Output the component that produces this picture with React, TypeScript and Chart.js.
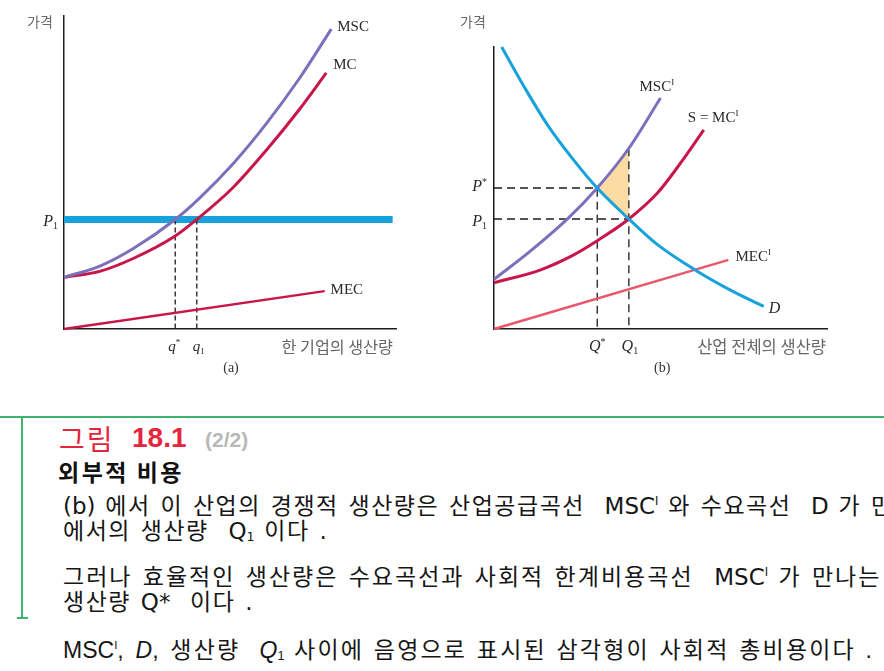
import React, { useEffect, useRef } from "react";
import { Chart, registerables } from "chart.js";

Chart.register(...registerables);

// ---------- (a) 한 기업 ----------
const P1_A = 3.5;
const Q_STAR_A = 3.35;
const Q1_A = 4.0;
const PRICE_END_A = 9.9;
const MSC_A = [[0, 1.65], [1.1, 2.02], [2.1, 2.58], [3.35, 3.5], [4.1, 4.2], [5.1, 5.29], [6.1, 6.57], [7.1, 8.02], [8.05, 9.58]];
const MC_A = [[0, 1.65], [1.1, 1.85], [2.1, 2.26], [3.35, 2.97], [4.0, 3.5], [5.1, 4.53], [6.1, 5.72], [7.1, 7.03], [7.9, 8.18]];
const MEC_A = [[0, 0], [7.85, 1.21]];

// ---------- (b) 산업 전체 ----------
const P_STAR_B = 5.0;
const Q_STAR_B = 3.1;
const P1_B = 3.9;
const Q1_B = 4.05;
const MSC_B_AT_Q1 = 6.41;
const DEMAND_B = [[0.23, 10], [0.9, 8.6], [1.6, 7.25], [2.4, 5.98], [3.1, 5.0], [4.05, 3.9], [4.9, 3.0], [6.1, 2.05], [7.1, 1.38], [8.1, 0.8]];
const MSC_B = [[0, 1.76], [1.1, 2.77], [2.23, 3.93], [3.1, 5.0], [4.05, 6.41], [5.0, 8.19]];
const MC_B = [[0, 1.64], [1.38, 2.09], [2.38, 2.62], [3.1, 3.13], [4.05, 3.9], [4.9, 4.81], [5.6, 5.88], [6.3, 7.06]];
const MEC_B = [[0, 0], [7.04, 2.45]];

const AXIS_MAX = 10;

const BLUE = "#17a2dc";
const PURPLE = "#7c70bc";
const CRIMSON = "#c8164b";
const PINK = "#ea566c";
const SHADE = "#fddca3";
const INK = "#1d1d1d";

const SERIF = '"Liberation Serif", "DejaVu Serif", serif';
const KR = '"Noto Sans CJK KR", sans-serif';

const pts = (a: number[][]) => a.map(([x, y]) => ({ x, y }));
const last = (a: number[][]) => a[a.length - 1];

type Part = { t: string; italic?: boolean; sub?: boolean; sup?: boolean };
type Label = {
  x: number; y: number; dx?: number; dy?: number;
  parts: Part[]; size: number; family: string; color: string;
  align?: "left" | "center" | "right";
};

function drawLabel(ctx: CanvasRenderingContext2D, chart: any, l: Label) {
  const px = chart.scales.x.getPixelForValue(l.x) + (l.dx || 0);
  const py = chart.scales.y.getPixelForValue(l.y) + (l.dy || 0);
  const fontFor = (p: Part) =>
    `${p.italic ? "italic " : ""}${p.sub || p.sup ? Math.round(l.size * 0.62) : l.size}px ${l.family}`;
  let total = 0;
  const widths = l.parts.map((p) => {
    ctx.font = fontFor(p);
    const w = ctx.measureText(p.t).width;
    total += w;
    return w;
  });
  let x = l.align === "center" ? px - total / 2 : l.align === "right" ? px - total : px;
  ctx.save();
  ctx.fillStyle = l.color;
  ctx.textBaseline = "middle";
  ctx.textAlign = "left";
  l.parts.forEach((p, i) => {
    ctx.font = fontFor(p);
    const off = p.sub ? l.size * 0.3 : p.sup ? -l.size * 0.3 : 0;
    ctx.fillText(p.t, x, py + off);
    x += widths[i];
  });
  ctx.restore();
}

const labelPlugin = (items: Label[]) => ({
  id: "curveLabels",
  afterDatasetsDraw(chart: any) {
    const ctx = chart.ctx as CanvasRenderingContext2D;
    items.forEach((l) => drawLabel(ctx, chart, l));
  },
});

const axis = () => ({
  type: "linear" as const,
  min: 0,
  max: AXIS_MAX,
  grid: { display: false, drawTicks: false },
  ticks: { display: false },
  border: { display: true, color: INK, width: 1.5 },
  afterFit: (s: any) => {
    if (s.isHorizontal()) s.height = 0;
    else s.width = 0;
  },
});

const curve = (data: number[][], color: string, width: number, extra: any = {}) => ({
  data: pts(data),
  borderColor: color,
  borderWidth: width,
  pointRadius: 0,
  fill: false,
  cubicInterpolationMode: "monotone",
  clip: false,
  ...extra,
});

const dashed = (data: number[][], dash: number[]) => ({
  data: pts(data),
  borderColor: INK,
  borderWidth: 1.3,
  borderDash: dash,
  pointRadius: 0,
  fill: false,
  tension: 0,
  clip: false,
});

const baseOptions = (padding: any) => ({
  responsive: false,
  animation: false as const,
  events: [] as any[],
  layout: { padding },
  plugins: { legend: { display: false }, tooltip: { enabled: false } },
  scales: { x: axis(), y: axis() },
});

const TXT = "#2a2a2a";

function lab(x: number, y: number, dx: number, dy: number, parts: Part[], size: number, family = SERIF, color = TXT, align: Label["align"] = "left"): Label {
  return { x, y, dx, dy, parts, size, family, color, align };
}

function configA(): any {
  const labels: Label[] = [
    lab(0, AXIS_MAX, -24, 6, [{ t: "가격" }], 14, KR, "#6a6a6a", "center"),
    lab(last(MSC_A)[0], last(MSC_A)[1], 6, -2, [{ t: "MSC" }], 15),
    lab(last(MC_A)[0], last(MC_A)[1], 7, -8, [{ t: "MC" }], 15),
    lab(last(MEC_A)[0], last(MEC_A)[1], 6, -1, [{ t: "MEC" }], 15),
    lab(0, P1_A, -6, 2, [{ t: "P", italic: true }, { t: "1", sub: true }], 16, SERIF, TXT, "right"),
    lab(Q_STAR_A, 0, -1, 18, [{ t: "q", italic: true }, { t: "*", sup: true }], 15, SERIF, TXT, "center"),
    lab(Q1_A, 0, 2, 18, [{ t: "q", italic: true }, { t: "1", sub: true }], 15, SERIF, TXT, "center"),
    lab(AXIS_MAX, 0, -3, 18, [{ t: "한 기업의 생산량" }], 16.2, KR, "#666", "right"),
    lab(5, 0, 1, 39, [{ t: "(a)" }], 14, SERIF, "#333", "center"),
  ];
  return {
    type: "line",
    data: {
      datasets: [
        curve(MSC_A, PURPLE, 3),
        curve(MC_A, CRIMSON, 3),
        curve(MEC_A, CRIMSON, 2.5, { tension: 0, cubicInterpolationMode: "default" }),
        dashed([[Q_STAR_A, P1_A], [Q_STAR_A, 0]], [5, 3]),
        dashed([[Q1_A, P1_A], [Q1_A, 0]], [5, 3]),
        curve([[0, P1_A], [PRICE_END_A, P1_A]], BLUE, 7, { tension: 0, cubicInterpolationMode: "default" }),
      ],
    },
    options: baseOptions({ left: 64, top: 16, right: 24, bottom: 61 }),
    plugins: [labelPlugin(labels)],
  };
}

function configB(): any {
  const labels: Label[] = [
    lab(0, AXIS_MAX, -21, -25, [{ t: "가격" }], 14, KR, "#6a6a6a", "center"),
    lab(last(MSC_B)[0], last(MSC_B)[1], -21, -11, [{ t: "MSC" }, { t: "I", sup: true }], 15),
    lab(last(MC_B)[0], last(MC_B)[1], -16, -12, [{ t: "S = MC" }, { t: "I", sup: true }], 15),
    lab(last(MEC_B)[0], last(MEC_B)[1], 7, -3, [{ t: "MEC" }, { t: "I", sup: true }], 15),
    lab(last(DEMAND_B)[0], last(DEMAND_B)[1], 5, 2, [{ t: "D", italic: true }], 16),
    lab(0, P_STAR_B, -7, -1, [{ t: "P", italic: true }, { t: "*", sup: true }], 16, SERIF, TXT, "right"),
    lab(0, P1_B, -7, 3, [{ t: "P", italic: true }, { t: "1", sub: true }], 16, SERIF, TXT, "right"),
    lab(Q_STAR_B, 0, 0, 18, [{ t: "Q", italic: true }, { t: "*", sup: true }], 16, SERIF, TXT, "center"),
    lab(Q1_B, 0, 1, 18, [{ t: "Q", italic: true }, { t: "1", sub: true }], 16, SERIF, TXT, "center"),
    lab(AXIS_MAX, 0, -1, 18, [{ t: "산업 전체의 생산량" }], 16.5, KR, "#666", "right"),
    lab(5.05, 0, 0, 39, [{ t: "(b)" }], 14, SERIF, "#333", "center"),
  ];
  return {
    type: "line",
    data: {
      datasets: [
        curve(DEMAND_B, BLUE, 3),
        curve(MSC_B, PURPLE, 3),
        curve(MC_B, CRIMSON, 3),
        curve(MEC_B, PINK, 2.5, { tension: 0, cubicInterpolationMode: "default" }),
        dashed([[0, P_STAR_B], [Q_STAR_B, P_STAR_B], [Q_STAR_B, 0]], [8, 5]),
        dashed([[0, P1_B], [Q1_B, P1_B]], [8, 5]),
        dashed([[Q1_B, MSC_B_AT_Q1], [Q1_B, 0]], [8, 5]),
        {
          data: pts([[Q_STAR_B, P_STAR_B], [Q1_B, MSC_B_AT_Q1], [Q1_B, P1_B]]),
          borderWidth: 0,
          borderColor: "rgba(0,0,0,0)",
          backgroundColor: SHADE,
          fill: "shape",
          pointRadius: 0,
          tension: 0,
          clip: false,
        },
      ],
    },
    options: baseOptions({ left: 54, top: 47, right: 57, bottom: 61 }),
    plugins: [labelPlugin(labels)],
  };
}

// ---------- 본문 ----------
const FIG_WORD = "그림";
const FIG_NO = "18.1";
const FIG_PAGE = "(2/2)";
const SUBTITLE = "외부적 비용";

const BODY = '"DejaVu Sans", "Noto Sans CJK KR", sans-serif';
const BODY2 = '"Liberation Sans", "Noto Sans CJK KR", sans-serif';

const sup = (t: string) => <span style={{ fontSize: "0.5em", verticalAlign: "0.8em", letterSpacing: 0 }}>{t}</span>;
const sub = (t: string) => <span style={{ fontSize: "0.55em", verticalAlign: "-0.12em", letterSpacing: 0 }}>{t}</span>;
const lat = (t: string, italic = false) => (
  <span style={{ letterSpacing: 0, fontStyle: italic ? "italic" : "normal" }}>{t}</span>
);

export default function App() {
  const refA = useRef<HTMLCanvasElement>(null);
  const refB = useRef<HTMLCanvasElement>(null);

  useEffect(() => {
    const a = new Chart(refA.current as HTMLCanvasElement, configA());
    const b = new Chart(refB.current as HTMLCanvasElement, configB());
    return () => {
      a.destroy();
      b.destroy();
    };
  }, []);

  const bodyLine = (center: number, font: string, spacing: number, children: React.ReactNode) => (
    <div
      style={{
        position: "absolute",
        left: 63,
        top: center - 16,
        height: 32,
        lineHeight: "32px",
        fontFamily: font,
        fontSize: 23,
        letterSpacing: `${spacing}px`,
        wordSpacing: "1px",
        color: "#161616",
        whiteSpace: "pre",
      }}
    >
      {children}
    </div>
  );

  return (
    <div style={{ position: "absolute", left: 0, top: 0, width: 884, height: 671, background: "#fff", overflow: "hidden" }}>
      <canvas ref={refA} width={420} height={390} style={{ position: "absolute", left: 0, top: 0, width: 420, height: 390 }} />
      <canvas ref={refB} width={444} height={390} style={{ position: "absolute", left: 440, top: 0, width: 444, height: 390 }} />

      {/* 구분선 */}
      <div style={{ position: "absolute", left: 0, top: 416, width: 884, height: 2, background: "#3bb56c" }} />
      <div style={{ position: "absolute", left: 21, top: 417, width: 2, height: 202, background: "#3bb56c" }} />
      <div style={{ position: "absolute", left: 17, top: 617, width: 11, height: 2, background: "#3bb56c" }} />

      {/* 제목 */}
      <div style={{ position: "absolute", left: 59, top: 419, height: 38, lineHeight: "38px", fontFamily: KR, fontSize: 28, letterSpacing: "2px", color: "#e3263d", whiteSpace: "pre" }}>
        {FIG_WORD}
      </div>
      <div style={{ position: "absolute", left: 132, top: 420, height: 36, lineHeight: "36px", fontFamily: '"Liberation Sans", sans-serif', fontWeight: "bold", fontSize: 28, color: "#e3263d" }}>
        {FIG_NO}
      </div>
      <div style={{ position: "absolute", left: 205, top: 422, height: 36, lineHeight: "36px", fontFamily: '"Liberation Sans", sans-serif', fontWeight: "bold", fontSize: 21, color: "#b8b8b8" }}>
        {FIG_PAGE}
      </div>
      <div style={{ position: "absolute", left: 58, top: 456, height: 30, lineHeight: "30px", fontFamily: KR, fontWeight: "bold", fontSize: 23, letterSpacing: "2.5px", color: "#111", whiteSpace: "pre" }}>
        {SUBTITLE}
      </div>

      {bodyLine(501, BODY, 1.5, <>{lat("(b)")} 에서 이 산업의 경쟁적 생산량은 산업공급곡선  {lat("MSC")}{sup("I")} 와 수요곡선  {lat("D")} 가 만나는 점</>)}
      {bodyLine(531, BODY, 1.5, <>에서의 생산량  {lat("Q")}{sub("1")} 이다 .</>)}
      {bodyLine(572, BODY, 2.0, <>그러나 효율적인 생산량은 수요곡선과 사회적 한계비용곡선  {lat("MSC")}{sup("I")} 가 만나는 점의</>)}
      {bodyLine(602, BODY, 1.5, <>생산량 {lat("Q*")}  이다 .</>)}
      {bodyLine(645, BODY2, 2.2, <>{lat("MSC")}{sup("I")}, {lat("D", true)}, 생산량  {lat("Q", true)}{sub("1")} 사이에 음영으로 표시된 삼각형이 사회적 총비용이다 .</>)}
    </div>
  );
}
